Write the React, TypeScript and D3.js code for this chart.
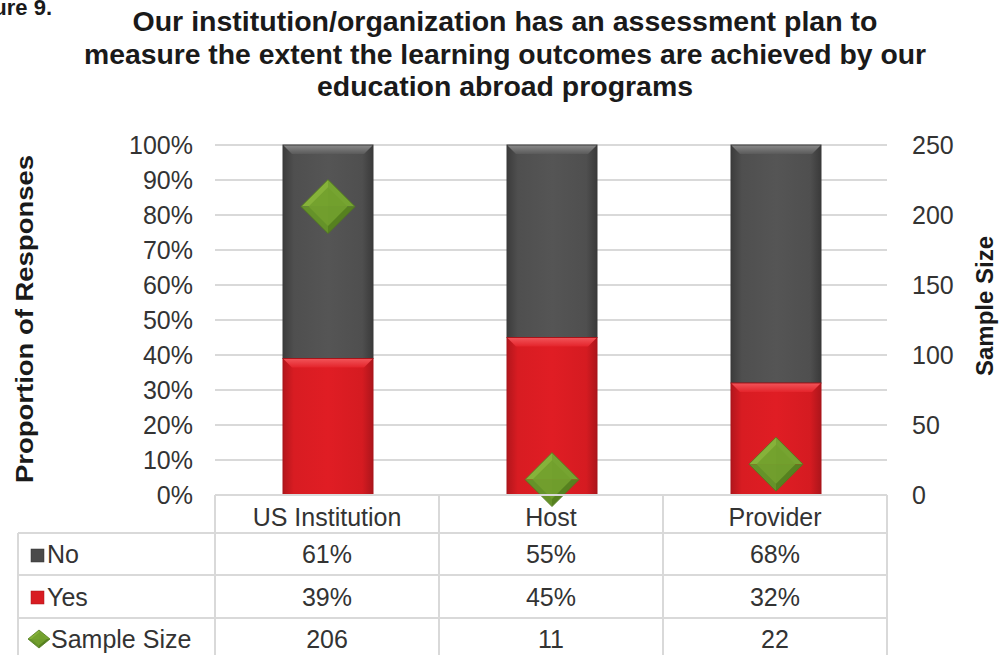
import React from "react";
import * as d3 from "d3";

const categories = ["US Institution", "Host", "Provider"];
const noValues = [0.61, 0.55, 0.68];
const yesValues = [0.39, 0.45, 0.32];
const sampleSizes = [206, 11, 22];
const leftTicks = [0, 0.1, 0.2, 0.3, 0.4, 0.5, 0.6, 0.7, 0.8, 0.9, 1];
const rightTicks = [0, 50, 100, 150, 200, 250];
const titleLines = [
  "Our institution/organization has an assessment plan to",
  "measure the extent the learning outcomes are achieved by our",
  "education abroad programs",
];
const titleLengths = [745, 842, 376];

const W = 1000;
const H = 655;
const FONT = "'Liberation Sans', Arial, sans-serif";

export default function App() {
  const x = d3.scaleBand<string>().domain(categories).range([215, 887]);
  const y = d3.scaleLinear().domain([0, 1]).range([495, 145]);
  const y2 = d3.scaleLinear().domain([0, 250]).range([495, 145]);
  const barW = 90;
  const bw = x.bandwidth();
  const fmtPct = d3.format(".0%");
  const diamond = (cx: number, cy: number, rx: number, ry: number) => [
    [cx, cy - ry],
    [cx + rx, cy],
    [cx, cy + ry],
    [cx - rx, cy],
  ];
  const rowLines = [533, 575, 618, 660];
  const rowBase = [563, 606, 648];
  const tableLeft = 18;
  const tableRight = x(categories[categories.length - 1])! + bw;
  const FS = 25;

  const renderBar = (x0: number, yTop: number, yBot: number, kind: "no" | "yes", key: string) => {
    const h = yBot - yTop;
    const bev = 9;
    return (
      <g key={key}>
        <rect x={x0} y={yTop} width={barW} height={h} fill={`url(#grad-${kind})`} />
        <polygon
          points={`${x0},${yTop} ${x0 + barW},${yTop} ${x0 + barW - bev},${yTop + bev} ${x0 + bev},${yTop + bev}`}
          fill={`url(#bev-${kind})`}
        />
        <rect x={x0} y={yTop} width={barW} height={h} fill="none" stroke={kind === "no" ? "#3a3a3a" : "#a8141a"} strokeWidth={1} />
      </g>
    );
  };

  const renderDiamond = (cx: number, cy: number, rx: number, ry: number, key: string) => {
    const [t, rr, b, l] = diamond(cx, cy, rx, ry);
    const c = [cx, cy];
    const tri = (a: number[], b2: number[], fill: string, k: string) => (
      <polygon key={k} points={`${a[0]},${a[1]} ${b2[0]},${b2[1]} ${c[0]},${c[1]}`} fill={fill} />
    );
    return (
      <g key={key}>
        {tri(l, t, "#86b23a", "a")}
        {tri(t, rr, "#76a431", "b")}
        {tri(rr, b, "#56811f", "c")}
        {tri(b, l, "#659229", "d")}
        <polygon
          points={diamond(cx, cy, rx * 0.72, ry * 0.72).map((p) => p.join(",")).join(" ")}
          fill="#72a02e"
          opacity={0.9}
        />
        <polygon points={[t, rr, b, l].map((p) => p.join(",")).join(" ")} fill="none" stroke="#4f7a1c" strokeWidth={0.8} />
      </g>
    );
  };

  return (
    <svg
      width={W}
      height={H}
      viewBox={`0 0 ${W} ${H}`}
      style={{ position: "absolute", left: 0, top: 0, background: "#fff" }}
      fontFamily={FONT}
    >
      <defs>
        <linearGradient id="grad-no" x1="0" x2="1" y1="0" y2="0">
          <stop offset="0" stopColor="#3c3c3c" />
          <stop offset="0.12" stopColor="#4f4f4f" />
          <stop offset="0.5" stopColor="#555555" />
          <stop offset="0.88" stopColor="#4f4f4f" />
          <stop offset="1" stopColor="#3a3a3a" />
        </linearGradient>
        <linearGradient id="grad-yes" x1="0" x2="1" y1="0" y2="0">
          <stop offset="0" stopColor="#b3161c" />
          <stop offset="0.12" stopColor="#d81c22" />
          <stop offset="0.5" stopColor="#e01d24" />
          <stop offset="0.88" stopColor="#d51b21" />
          <stop offset="1" stopColor="#ad151b" />
        </linearGradient>
        <linearGradient id="bev-no" x1="0" x2="0" y1="0" y2="1">
          <stop offset="0" stopColor="#8a8a8a" />
          <stop offset="1" stopColor="#5a5a5a" />
        </linearGradient>
        <linearGradient id="bev-yes" x1="0" x2="0" y1="0" y2="1">
          <stop offset="0" stopColor="#f2555a" />
          <stop offset="1" stopColor="#e4242b" />
        </linearGradient>
      </defs>

      {/* figure label (clipped at the top-left like the source) */}
      <text x={52} y={15} textAnchor="end" fontSize={22} fontWeight="bold" fill="#1a1a1a">
        Figure 9.
      </text>

      {/* title */}
      {titleLines.map((t, i) => (
        <text
          key={t}
          x={505}
          y={31 + i * 32.5}
          textAnchor="middle"
          fontSize={28}
          fontWeight="bold"
          fill="#1a1a1a"
          textLength={titleLengths[i]}
          lengthAdjust="spacingAndGlyphs"
        >
          {t}
        </text>
      ))}

      {/* gridlines */}
      {leftTicks.map((t) => (
        <line key={t} x1={215} x2={887} y1={y(t)} y2={y(t)} stroke="#d9d9d9" strokeWidth={2} />
      ))}

      {/* left tick labels */}
      {leftTicks.map((t) => (
        <text key={t} x={193} y={y(t) + 9} textAnchor="end" fontSize={FS} fill="#333">
          {fmtPct(t)}
        </text>
      ))}

      {/* right tick labels */}
      {rightTicks.map((t) => (
        <text key={t} x={912} y={y2(t) + 9} textAnchor="start" fontSize={FS} fill="#333">
          {t}
        </text>
      ))}

      {/* axis titles */}
      <text
        transform={`translate(33,319) rotate(-90)`}
        textAnchor="middle"
        fontSize={24}
        fontWeight="bold"
        fill="#1a1a1a"
        textLength={328}
        lengthAdjust="spacingAndGlyphs"
      >
        Proportion of Responses
      </text>
      <text
        transform={`translate(993,306) rotate(-90)`}
        textAnchor="middle"
        fontSize={24}
        fontWeight="bold"
        fill="#1a1a1a"
      >
        Sample Size
      </text>

      {/* bars */}
      {categories.map((c, i) => {
        const x0 = x(c)! + bw / 2 - barW / 2 + 1;
        return (
          <g key={c}>
            {renderBar(x0, y(yesValues[i] + noValues[i]), y(yesValues[i]), "no", "no")}
            {renderBar(x0, y(yesValues[i]), y(0), "yes", "yes")}
          </g>
        );
      })}

      {/* sample size diamonds */}
      {categories.map((c, i) => renderDiamond(x(c)! + bw / 2 + 1, y2(sampleSizes[i]), 27, 27, c))}

      {/* data table */}
      <g stroke="#d9d9d9" strokeWidth={2} fill="none">
        <line x1={x(categories[0])!} x2={tableRight} y1={495} y2={495} />
        {rowLines.map((ly) => (
          <line key={ly} x1={tableLeft} x2={tableRight} y1={ly} y2={ly} />
        ))}
        <line x1={tableLeft} x2={tableLeft} y1={533} y2={H} />
        {categories.map((c) => (
          <line key={c} x1={x(c)!} x2={x(c)!} y1={495} y2={H} />
        ))}
        <line x1={tableRight} x2={tableRight} y1={495} y2={H} />
      </g>

      {categories.map((c) => (
        <text key={c} x={x(c)! + bw / 2} y={526} textAnchor="middle" fontSize={FS} fill="#333">
          {c}
        </text>
      ))}
      {categories.map((c, i) => (
        <g key={c} fontSize={FS} fill="#333" textAnchor="middle">
          <text x={x(c)! + bw / 2} y={rowBase[0]}>{fmtPct(noValues[i])}</text>
          <text x={x(c)! + bw / 2} y={rowBase[1]}>{fmtPct(yesValues[i])}</text>
          <text x={x(c)! + bw / 2} y={rowBase[2]}>{sampleSizes[i]}</text>
        </g>
      ))}

      {/* legend keys */}
      <rect x={31} y={549} width={13} height={13} fill="#4a4a4a" stroke="#333" strokeWidth={0.5} />
      <rect x={31} y={591} width={13} height={13} fill="#d81c22" stroke="#a8141a" strokeWidth={0.5} />
      {renderDiamond(39, 639, 11, 9, "legend")}
      <g fontSize={FS} fill="#333">
        <text x={47} y={rowBase[0]}>No</text>
        <text x={47} y={rowBase[1]}>Yes</text>
        <text x={51} y={rowBase[2]}>Sample Size</text>
      </g>
    </svg>
  );
}
